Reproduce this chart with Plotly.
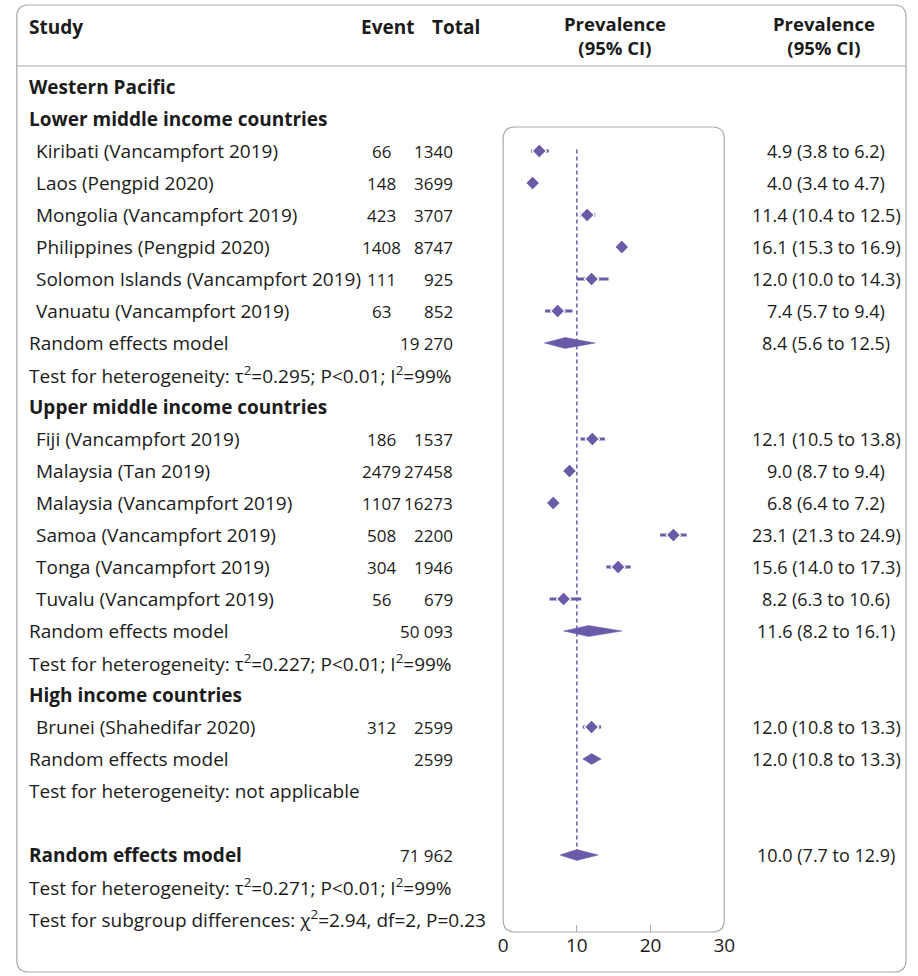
import plotly.graph_objects as go

# ---- data -------------------------------------------------------------
region = "Western Pacific"
group_names = [
    "Lower middle income countries",
    "Upper middle income countries",
    "High income countries",
]
study_labels = [
    "Kiribati (Vancampfort 2019)",
    "Laos (Pengpid 2020)",
    "Mongolia (Vancampfort 2019)",
    "Philippines (Pengpid 2020)",
    "Solomon Islands (Vancampfort 2019)",
    "Vanuatu (Vancampfort 2019)",
    "Fiji (Vancampfort 2019)",
    "Malaysia (Tan 2019)",
    "Malaysia (Vancampfort 2019)",
    "Samoa (Vancampfort 2019)",
    "Tonga (Vancampfort 2019)",
    "Tuvalu (Vancampfort 2019)",
    "Brunei (Shahedifar 2020)",
]
study_group = [0, 0, 0, 0, 0, 0, 1, 1, 1, 1, 1, 1, 2]
events = [66, 148, 423, 1408, 111, 63, 186, 2479, 1107, 508, 304, 56, 312]
totals = [1340, 3699, 3707, 8747, 925, 852, 1537, 27458, 16273, 2200, 1946, 679, 2599]
est = [4.9, 4.0, 11.4, 16.1, 12.0, 7.4, 12.1, 9.0, 6.8, 23.1, 15.6, 8.2, 12.0]
ci_lo = [3.8, 3.4, 10.4, 15.3, 10.0, 5.7, 10.5, 8.7, 6.4, 21.3, 14.0, 6.3, 10.8]
ci_hi = [6.2, 4.7, 12.5, 16.9, 14.3, 9.4, 13.8, 9.4, 7.2, 24.9, 17.3, 10.6, 13.3]

pooled_total = ["19 270", "50 093", "2599"]
pooled_est = [8.4, 11.6, 12.0]
pooled_lo = [5.6, 8.2, 10.8]
pooled_hi = [12.5, 16.1, 13.3]
het_text = [
    "Test for heterogeneity: τ<sup>2</sup>=0.295; P&lt;0.01; I<sup>2</sup>=99%",
    "Test for heterogeneity: τ<sup>2</sup>=0.227; P&lt;0.01; I<sup>2</sup>=99%",
    "Test for heterogeneity: not applicable",
]

overall_total = "71 962"
overall_est, overall_lo, overall_hi = 10.0, 7.7, 12.9
overall_het = "Test for heterogeneity: τ<sup>2</sup>=0.271; P&lt;0.01; I<sup>2</sup>=99%"
subgroup_test = "Test for subgroup differences: χ<sup>2</sup>=2.94, df=2, P=0.23"

x_ticks = [0, 10, 20, 30]
x_inner_ticks = [10, 20]

# ---- style ------------------------------------------------------------
W, H = 918, 976
PURPLE = "#6a5aa7"
BORDER = "#a9a9a9"
INK = "#1b1b1b"
FONT = "Open Sans"
FS_TEXT = 19      # labels and notes
FS_NUM = 17       # event / total counts
FS_CI = 18        # estimate column
FS_HEAD = 19

ROW0_PX, ROW_PX = 87, 32          # pixel centre of first row, row pitch
X_LABEL, X_INDENT = 24, 32
X_EVENT, X_TOTAL, X_CI = 383, 456, 836
PANEL_L, PANEL_R, PANEL_T, PANEL_B = 507, 732, 127, 932


def px(x):
    return x / W


def py(y):
    return 1 - y / H


def fmt_ci(e, lo, hi):
    return f"{e:.1f} ({lo:.1f} to {hi:.1f})"


annotations = []


def note(x_px, y, yref, s, anchor="left", bold=False, size=FS_TEXT, yanchor="middle"):
    annotations.append(dict(
        x=px(x_px), xref="paper", y=y, yref=yref,
        text=f"<b>{s}</b>" if bold else s,
        xanchor=anchor, yanchor=yanchor, showarrow=False,
        borderpad=0, borderwidth=0,
        font=dict(family=FONT, size=size, color=INK),
    ))


def text(row, x_px, s, anchor="left", bold=False, size=FS_TEXT):
    note(x_px, row, "y", s, anchor, bold, size)


# ---- lay the table out row by row ------------------------------------
row = 0
text(row, X_LABEL, region, bold=True)
row += 1

study_rows, pooled_rows = [], []
for g, gname in enumerate(group_names):
    text(row, X_LABEL, gname, bold=True)
    row += 1
    for i, lab in enumerate(study_labels):
        if study_group[i] != g:
            continue
        text(row, X_INDENT, lab)
        text(row, X_EVENT, str(events[i]), anchor="center", size=FS_NUM)
        text(row, X_TOTAL, str(totals[i]), anchor="right", size=FS_NUM)
        text(row, X_CI, fmt_ci(est[i], ci_lo[i], ci_hi[i]), anchor="center", size=FS_CI)
        study_rows.append(row)
        row += 1
    text(row, X_LABEL, "Random effects model")
    text(row, X_TOTAL, pooled_total[g], anchor="right", size=FS_NUM)
    text(row, X_CI, fmt_ci(pooled_est[g], pooled_lo[g], pooled_hi[g]), anchor="center", size=FS_CI)
    pooled_rows.append(row)
    row += 1
    text(row, X_LABEL, het_text[g])
    row += 1

row += 1  # spacer
overall_row = row
text(row, X_LABEL, "Random effects model", bold=True)
text(row, X_TOTAL, overall_total, anchor="right", size=FS_NUM)
text(row, X_CI, fmt_ci(overall_est, overall_lo, overall_hi), anchor="center", size=FS_CI)
row += 1
text(row, X_LABEL, overall_het)
row += 1
text(row, X_LABEL, subgroup_test)

# column headers
note(X_LABEL, py(27), "paper", "Study", bold=True, size=FS_HEAD)
note(389, py(27), "paper", "Event", "center", bold=True, size=FS_HEAD)
note(459, py(27), "paper", "Total", "center", bold=True, size=FS_HEAD)
for x_c in (621, 834):
    note(x_c, py(36), "paper", "Prevalence<br>(95% CI)", "center", bold=True,
         size=FS_HEAD - 0.5)

# ---- marks -----------------------------------------------------------
fig = go.Figure()

# reference line at the overall estimate
fig.add_trace(go.Scatter(
    x=[overall_est, overall_est], y=[study_rows[0] - 0.05, overall_row],
    mode="lines", line=dict(color=PURPLE, width=1.5, dash="4px,3px"),
    hoverinfo="skip", showlegend=False,
))

# study confidence intervals
lx, ly = [], []
for r, lo, hi in zip(study_rows, ci_lo, ci_hi):
    lx += [lo, hi, None]
    ly += [r, r, None]
fig.add_trace(go.Scatter(
    x=lx, y=ly, mode="lines", line=dict(color=PURPLE, width=2.8),
    hoverinfo="skip", showlegend=False,
))
fig.add_trace(go.Scatter(
    x=est, y=study_rows, mode="markers",
    marker=dict(symbol="diamond", size=11, color=PURPLE, line=dict(color="white", width=1.2)),
    hoverinfo="skip", showlegend=False,
))

# pooled diamonds
HALF = 0.17
dx, dy = [], []
for r, e, lo, hi in zip(pooled_rows + [overall_row],
                        pooled_est + [overall_est],
                        pooled_lo + [overall_lo],
                        pooled_hi + [overall_hi]):
    dx += [lo, e, hi, e, lo, None]
    dy += [r, r - HALF, r, r + HALF, r, None]
fig.add_trace(go.Scatter(
    x=dx, y=dy, mode="lines", fill="toself", fillcolor=PURPLE,
    line=dict(color=PURPLE, width=0.5), hoverinfo="skip", showlegend=False,
))


# ---- frames ----------------------------------------------------------
def rounded(x0, y0, x1, y1, r):
    X0, X1, Y0, Y1 = px(x0), px(x1), py(y0), py(y1)
    rx, ry = r / W, r / H
    return (f"M {X0 + rx} {Y0} L {X1 - rx} {Y0} Q {X1} {Y0} {X1} {Y0 - ry} "
            f"L {X1} {Y1 + ry} Q {X1} {Y1} {X1 - rx} {Y1} "
            f"L {X0 + rx} {Y1} Q {X0} {Y1} {X0} {Y1 + ry} "
            f"L {X0} {Y0 - ry} Q {X0} {Y0} {X0 + rx} {Y0} Z")


shapes = [
    dict(type="path", xref="paper", yref="paper", path=rounded(12, 5, 917, 972, 12),
         line=dict(color=BORDER, width=1.2), layer="below"),
    dict(type="line", xref="paper", yref="paper", x0=px(12), x1=px(917),
         y0=py(66), y1=py(66), line=dict(color=BORDER, width=1.2)),
    dict(type="path", xref="paper", yref="paper",
         path=rounded(PANEL_L, PANEL_T, PANEL_R, PANEL_B, 12),
         line=dict(color=BORDER, width=1.2), layer="below"),
]

y_top = -ROW0_PX / ROW_PX
y_bot = (H - ROW0_PX) / ROW_PX

fig.update_layout(
    width=W, height=H, margin=dict(l=0, r=0, t=0, b=0),
    paper_bgcolor="white", plot_bgcolor="rgba(0,0,0,0)",
    font=dict(family=FONT, size=FS_TEXT, color=INK),
    annotations=annotations, shapes=shapes,
    xaxis=dict(
        domain=[px(PANEL_L), px(PANEL_R)], range=[x_ticks[0], x_ticks[-1]],
        anchor="free", position=py(PANEL_B),
        tickvals=x_ticks, ticktext=[str(t) for t in x_ticks],
        ticks="", showline=False, showgrid=False, zeroline=False,
        tickfont=dict(family=FONT, size=19, color=INK),
        minor=dict(tickvals=x_inner_ticks, ticks="inside", ticklen=7,
                   tickcolor=BORDER, tickwidth=1.2, showgrid=False),
    ),
    yaxis=dict(domain=[0, 1], range=[y_bot, y_top], visible=False),
)

fig.write_html("out.html")
